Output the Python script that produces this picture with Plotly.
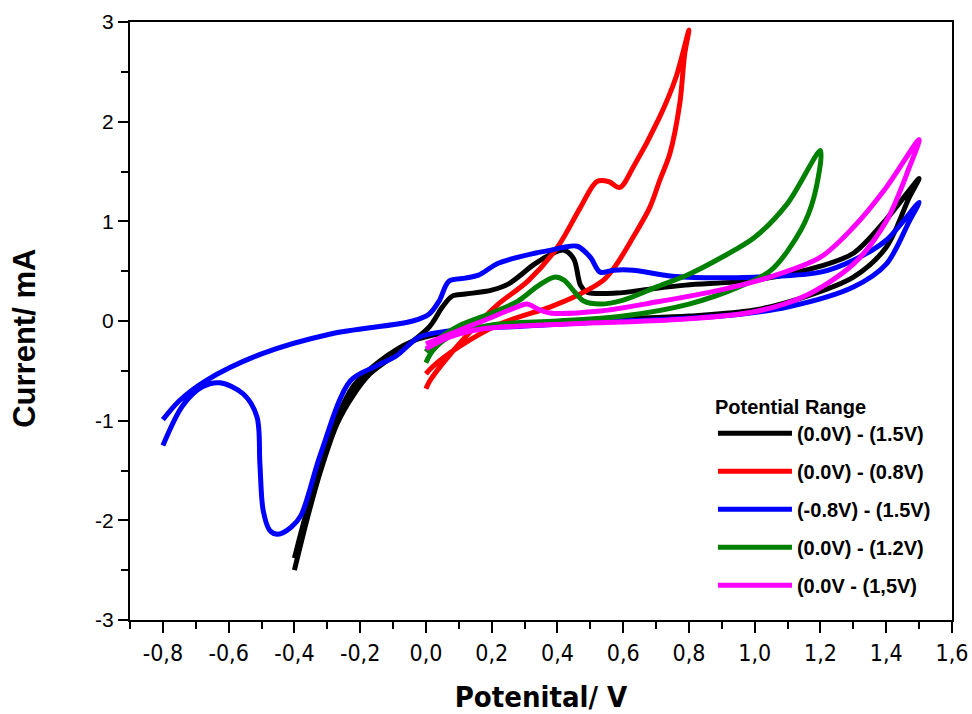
import plotly.graph_objects as go

# ---- data ----
series_names = ["(0.0V) - (1.5V)", "(0.0V) - (0.8V)", "(-0.8V) - (1.5V)",
                "(0.0V) - (1.2V)", "(0.0V - (1,5V)"]
series_colors = ["#000000", "#FF0000", "#0000FF", "#008000", "#FF00FF"]

black_x = [-0.40, -0.36, -0.32, -0.27, -0.22, -0.17, -0.09, 0.01, 0.05, 0.08, 0.12, 0.20, 0.25,
           0.33, 0.38, 0.42, 0.45, 0.47, 0.49, 0.58, 0.68, 0.79, 1.00, 1.20, 1.30, 1.40, 1.50,
           1.47, 1.40, 1.30, 1.15, 1.00, 0.80, 0.60, 0.40, 0.20, 0.05, -0.04, -0.14, -0.22,
           -0.28, -0.33, -0.37, -0.40]
black_y = [-2.50, -1.97, -1.50, -1.03, -0.74, -0.53, -0.33, -0.06, 0.14, 0.25, 0.27, 0.31, 0.37,
           0.57, 0.67, 0.71, 0.62, 0.36, 0.29, 0.28, 0.32, 0.36, 0.41, 0.55, 0.68, 1.02, 1.43,
           1.24, 0.74, 0.44, 0.24, 0.11, 0.05, 0.02, -0.02, -0.06, -0.12, -0.20, -0.40, -0.65,
           -1.05, -1.55, -2.00, -2.38]

red_x = [0.00, 0.012, 0.05, 0.12, 0.22, 0.31, 0.40, 0.47, 0.52, 0.555, 0.59, 0.63, 0.71, 0.76, 0.80,
         0.787, 0.772, 0.742, 0.711, 0.681, 0.63, 0.58, 0.54, 0.45, 0.377, 0.225, 0.10, 0.02, 0.00]
red_y = [-0.68, -0.60, -0.43, -0.16, 0.17, 0.40, 0.74, 1.14, 1.40, 1.40, 1.34, 1.54, 2.04, 2.44, 2.92,
         2.68, 2.18, 1.68, 1.41, 1.14, 0.84, 0.57, 0.41, 0.24, 0.14, -0.03, -0.26, -0.46, -0.53]

blue_x = [-0.80, -0.75, -0.67, -0.50, -0.29, -0.04, 0.01, 0.04, 0.07, 0.12, 0.16, 0.22, 0.33, 0.38,
          0.42, 0.46, 0.50, 0.53, 0.57, 0.63, 0.75, 1.00, 1.20, 1.30, 1.40, 1.50,
          1.47, 1.40, 1.30, 1.10, 0.90, 0.60, 0.30, 0.07, -0.02, -0.09, -0.15, -0.23, -0.32,
          -0.38, -0.41, -0.45, -0.475, -0.495, -0.505, -0.514, -0.556, -0.626, -0.68, -0.74, -0.80]
blue_y = [-0.99, -0.80, -0.60, -0.33, -0.13, 0.00, 0.07, 0.20, 0.40, 0.43, 0.46, 0.58, 0.68, 0.71,
          0.74, 0.75, 0.64, 0.49, 0.51, 0.51, 0.45, 0.44, 0.49, 0.61, 0.81, 1.19,
          1.00, 0.57, 0.34, 0.14, 0.05, 0.00, -0.05, -0.10, -0.16, -0.35, -0.45, -0.60, -1.33,
          -1.95, -2.07, -2.14, -2.10, -1.90, -1.43, -0.96, -0.73, -0.62, -0.66, -0.85, -1.25]

green_x = [0.00, 0.03, 0.10, 0.20, 0.28, 0.34, 0.39, 0.42, 0.45, 0.48, 0.53, 0.60, 0.70, 0.80,
           0.90, 1.00, 1.10, 1.20,
           1.18, 1.14, 1.05, 0.95, 0.80, 0.60, 0.40, 0.20, 0.07, 0.02, 0.00]
green_y = [-0.31, -0.20, -0.05, 0.08, 0.20, 0.35, 0.44, 0.41, 0.30, 0.20, 0.17, 0.21, 0.34, 0.47,
           0.64, 0.84, 1.18, 1.71,
           1.24, 0.91, 0.51, 0.34, 0.17, 0.05, 0.00, -0.04, -0.16, -0.30, -0.42]

magenta_x = [0.00, 0.073, 0.173, 0.276, 0.307, 0.347, 0.377, 0.53, 0.70, 0.894, 1.046, 1.20, 1.30,
             1.40, 1.50,
             1.47, 1.40, 1.30, 1.146, 0.995, 0.79, 0.59, 0.43, 0.17, 0.073, 0.00]
magenta_y = [-0.23, -0.13, 0.00, 0.14, 0.17, 0.11, 0.08, 0.10, 0.19, 0.31, 0.44, 0.64, 0.94,
             1.34, 1.82,
             1.54, 1.00, 0.57, 0.24, 0.09, 0.02, -0.01, -0.03, -0.08, -0.16, -0.28]

series_x = [black_x, red_x, blue_x, green_x, magenta_x]
series_y = [black_y, red_y, blue_y, green_y, magenta_y]

x_ticks = [-0.8, -0.6, -0.4, -0.2, 0.0, 0.2, 0.4, 0.6, 0.8, 1.0, 1.2, 1.4, 1.6]
x_tick_labels = ["-0,8", "-0,6", "-0,4", "-0,2", "0,0", "0,2", "0,4", "0,6", "0,8",
                 "1,0", "1,2", "1,4", "1,6"]
y_ticks = [-3, -2, -1, 0, 1, 2, 3]
y_tick_labels = ["-3", "-2", "-1", "0", "1", "2", "3"]

# ---- figure ----
fig = go.Figure()
for i, (name, color, xs, ys) in enumerate(zip(series_names, series_colors, series_x, series_y)):
    fig.add_trace(go.Scatter(
        x=xs, y=ys, mode="lines", name="<b>" + name + "</b>",
        legendgroup="g%d" % i,
        line=dict(color=color, width=5, shape="spline", smoothing=0.9),
    ))

narrow = "Liberation Sans Narrow, Arial Narrow, DejaVu Sans Condensed, sans-serif"
arial = "Liberation Sans, Arial, sans-serif"

fig.update_layout(
    width=972, height=714,
    margin=dict(l=130, r=20, t=22, b=94),
    paper_bgcolor="white", plot_bgcolor="white",
    showlegend=True,
    legend=dict(
        x=0.7092, y=0.3884, xanchor="left", yanchor="top",
        bgcolor="rgba(0,0,0,0)",
        title=dict(text="<b>Potential Range</b>", font=dict(family=arial, size=20, color="black")),
        font=dict(family=arial, size=20, color="black"),
        tracegroupgap=9,
        itemwidth=74,
    ),
)

fig.update_xaxes(
    range=[-0.9, 1.6], automargin=False,
    tickmode="array", tickvals=x_ticks, ticktext=x_tick_labels,
    ticks="outside", ticklen=11, tickwidth=2, tickcolor="black",
    minor=dict(dtick=0.1, tick0=-0.9, ticks="outside", ticklen=7, tickwidth=2, tickcolor="black"),
    showline=True, linewidth=2, linecolor="black", mirror=True,
    showgrid=False, zeroline=False,
    tickfont=dict(family=narrow, size=23, color="black"),
    title=dict(text="<b>Potenital/ V</b>", font=dict(family=narrow, size=29, color="black"), standoff=27),
)
fig.update_yaxes(
    range=[-3, 3], automargin=False,
    tickmode="array", tickvals=y_ticks, ticktext=y_tick_labels,
    ticks="outside", ticklen=10, tickwidth=2, tickcolor="black",
    minor=dict(dtick=0.5, ticks="outside", ticklen=7, tickwidth=2, tickcolor="black"),
    showline=True, linewidth=2, linecolor="black", mirror=True,
    showgrid=False, zeroline=False,
    tickfont=dict(family=arial, size=21, color="black"),
    title=dict(text="<b>Current/ mA</b>" + "&nbsp;" * 4,
               font=dict(family=arial, size=31, color="black"), standoff=50),
)

fig.write_html("out.html")
